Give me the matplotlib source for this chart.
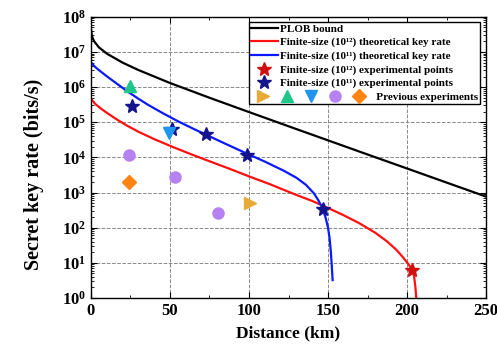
import numpy as np
import matplotlib
matplotlib.use('Agg')
import matplotlib.pyplot as plt
from matplotlib.legend_handler import HandlerTuple
from matplotlib.ticker import LogLocator, MultipleLocator


plt.rcParams['font.family'] = 'Liberation Serif'
plt.rcParams['font.weight'] = 'bold'
plt.rcParams['axes.labelweight'] = 'bold'
plt.rcParams['mathtext.fontset'] = 'custom'
plt.rcParams['mathtext.rm'] = 'Liberation Serif:bold'
plt.rcParams['mathtext.it'] = 'Liberation Serif:bold'
plt.rcParams['mathtext.bf'] = 'Liberation Serif:bold'


# ===== Data =====
plob_L = [0.1, 0.5, 1, 2, 5, 10, 20, 30, 50, 75, 100, 125, 150, 175, 200, 225, 250]
plob_R = [4.3e7, 3.06e7, 2.54e7, 2.02e7, 1.36e7, 9.0e6, 4.98e6, 3.07e6, 1.31e6,
          4.98e5, 1.95e5, 7.69e4, 3.05e4, 1.21e4, 4.83e3, 1.92e3, 765]

red_L = [0, 1, 3, 6, 10, 16, 23, 30, 40, 50, 56, 65, 75, 88, 100, 113, 130, 140,
         150, 160, 170, 180, 187, 193, 197, 200.6, 203.2, 204.5, 205.3, 205.8]
red_R = [4.79e5, 4.07e5, 3.24e5, 2.51e5, 1.86e5, 1.23e5, 7.94e4, 5.37e4, 3.31e4,
         2.14e4, 1.66e4, 1.15e4, 7.76e3, 4.68e3, 2.88e3, 1.74e3, 851, 575,
         363, 224, 132, 71, 41.7, 24.0, 15.1, 9.5, 6.3, 4.0, 2.0, 1.0]

blue_L = [0, 1, 3, 6, 10, 16, 23, 30, 36, 45, 55, 65, 73, 85, 99, 110, 122, 130,
          136, 141, 144, 146.5, 148.5, 150, 151, 151.8, 152.4, 152.9]
blue_R = [5.13e6, 4.47e6, 3.63e6, 2.82e6, 2.04e6, 1.29e6, 7.59e5, 4.68e5, 3.16e5,
          1.86e5, 1.07e5, 6.46e4, 4.37e4, 2.45e4, 1.26e4, 7.59e3, 4.17e3, 2.63e3,
          1.66e3, 955, 589, 355, 191, 100, 50, 20, 7.9, 3.2]

star12_L = [203]
star12_R = [6.3]

star11_L = [26, 51, 73, 99, 147]
star11_R = [2.85e5, 6.3e4, 4.5e4, 1.2e4, 350]

# previous experiments
prev_tri_right = ([100.5], [500])
prev_tri_up = ([24.6], [1.1e6])
prev_tri_down = ([49.7], [5.0e4])
prev_sphere = ([24.2, 52.9, 80.4], [1.2e4, 2.7e3, 260])
prev_diamond = ([24.2], [2.0e3])


class HandlerWide(HandlerTuple):
    def create_artists(self, legend, orig_handle, xdescent, ydescent,
                       width, height, fontsize, trans):
        return super().create_artists(legend, orig_handle, xdescent, ydescent,
                                      width * 4.5, height, fontsize, trans)


# Display
fig = plt.figure(figsize=[4.97, 3.44], dpi=100)
ax = fig.add_axes([0.183, 0.134, 0.795, 0.817])

ax.plot(plob_L, plob_R, color='black', lw=1.6, label='PLOB bound')
ax.plot(red_L, red_R, color='#ff1010', lw=1.6,
        label='Finite-size (10¹²) theoretical key rate')
ax.plot(blue_L, blue_R, color='#0a1aff', lw=1.6,
        label='Finite-size (10¹¹) theoretical key rate')
ax.plot(star12_L, star12_R, ls='none', marker='*', ms=10.5, color='#d01010',
        label='Finite-size (10¹²) experimental points')
ax.plot(star11_L, star11_R, ls='none', marker='*', ms=10.5, color='#14148c',
        label='Finite-size (10¹¹) experimental points')

h1, = ax.plot(*prev_tri_right, ls='none', marker='>', ms=8, color='#e8a935')
h2, = ax.plot(*prev_tri_up, ls='none', marker='^', ms=8, color='#1fc68a')
h3, = ax.plot(*prev_tri_down, ls='none', marker='v', ms=8, color='#1f95f0')
h4, = ax.plot(*prev_sphere, ls='none', marker='o', ms=8, color='#b682f2')
h5, = ax.plot(*prev_diamond, ls='none', marker='D', ms=7, color='#ff8412')

ax.set_yscale('log')
ax.set_xlim(0, 250)
ax.set_ylim(1, 1e8)
ax.xaxis.set_major_locator(MultipleLocator(50))
ax.xaxis.set_minor_locator(MultipleLocator(25))
ax.yaxis.set_major_locator(LogLocator(base=10, numticks=20))
ax.yaxis.set_minor_locator(LogLocator(base=10, subs=np.arange(2, 10), numticks=20))
ax.tick_params(which='both', direction='in', top=True, right=True, labelsize=12)
ax.tick_params(which='major', length=4)
ax.tick_params(which='minor', length=2)
ax.grid(True, which='major', ls='--', color='#888888', lw=0.7)
for s in ax.spines.values():
    s.set_linewidth(1.0)

ax.set_xlabel('Distance (km)', fontsize=12.5, labelpad=5)
ax.set_ylabel('Secret key rate (bits/s)', fontsize=14.5)
ax.yaxis.set_label_coords(-0.118, 0.44)

handles, labels = ax.get_legend_handles_labels()
handles = handles[:5] + [(h1, h2, h3, h4, h5)]
labels = labels[:5] + [' ' * 35 + 'Previous experiments']
leg = ax.legend(handles, labels, loc='upper right', bbox_to_anchor=(0.985, 0.982),
                borderaxespad=0, fontsize=8, handlelength=2.4, handletextpad=0.2,
                labelspacing=0.32, borderpad=0.2, fancybox=False, framealpha=1,
                edgecolor='black',
                handler_map={tuple: HandlerWide(ndivide=None, pad=0)})
leg.get_frame().set_linewidth(1.0)

plt.savefig('out.png', dpi=100)
